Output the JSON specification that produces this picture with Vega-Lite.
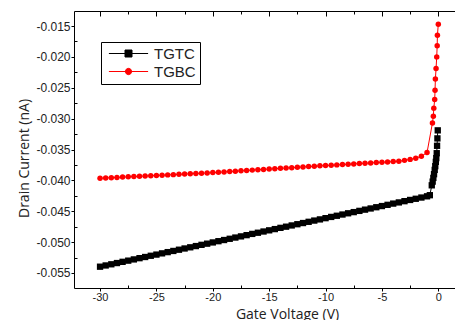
{
  "$schema": "https://vega.github.io/schema/vega-lite/v6.json",
  "width": 381,
  "height": 277,
  "autosize": {"type": "none"},
  "padding": {"left": 74, "top": 11, "right": 0, "bottom": 32},
  "background": "white",
  "config": {
    "view": {"stroke": null},
    "locale": {"number": {"decimal": ".", "thousands": ",", "grouping": [3], "currency": ["$", ""], "minus": "-"}},
    "axis": {
      "grid": false,
      "domainColor": "#000000",
      "tickColor": "#000000",
      "labelFont": "Liberation Sans",
      "labelColor": "#222222",
      "titleFont": "Open Sans",
      "titleFontWeight": "normal",
      "titleFontSize": 14,
      "titleColor": "#222222"
    }
  },
  "data": {
    "values": [
      {"series": "TGBC", "V": -30, "I": -0.03965}, {"series": "TGBC", "V": -29.5, "I": -0.03961},
      {"series": "TGBC", "V": -29, "I": -0.03956}, {"series": "TGBC", "V": -28.5, "I": -0.03952},
      {"series": "TGBC", "V": -28, "I": -0.03947}, {"series": "TGBC", "V": -27.5, "I": -0.03943},
      {"series": "TGBC", "V": -27, "I": -0.03938}, {"series": "TGBC", "V": -26.5, "I": -0.03934},
      {"series": "TGBC", "V": -26, "I": -0.03929}, {"series": "TGBC", "V": -25.5, "I": -0.03925},
      {"series": "TGBC", "V": -25, "I": -0.0392}, {"series": "TGBC", "V": -24.5, "I": -0.03916},
      {"series": "TGBC", "V": -24, "I": -0.03911}, {"series": "TGBC", "V": -23.5, "I": -0.03907},
      {"series": "TGBC", "V": -23, "I": -0.03902}, {"series": "TGBC", "V": -22.5, "I": -0.03898},
      {"series": "TGBC", "V": -22, "I": -0.03893}, {"series": "TGBC", "V": -21.5, "I": -0.03889},
      {"series": "TGBC", "V": -21, "I": -0.03884}, {"series": "TGBC", "V": -20.5, "I": -0.0388},
      {"series": "TGBC", "V": -20, "I": -0.03874}, {"series": "TGBC", "V": -19.5, "I": -0.03868},
      {"series": "TGBC", "V": -19, "I": -0.03863}, {"series": "TGBC", "V": -18.5, "I": -0.03857},
      {"series": "TGBC", "V": -18, "I": -0.03851}, {"series": "TGBC", "V": -17.5, "I": -0.03845},
      {"series": "TGBC", "V": -17, "I": -0.0384}, {"series": "TGBC", "V": -16.5, "I": -0.03834},
      {"series": "TGBC", "V": -16, "I": -0.03828}, {"series": "TGBC", "V": -15.5, "I": -0.03823},
      {"series": "TGBC", "V": -15, "I": -0.03817}, {"series": "TGBC", "V": -14.5, "I": -0.03811},
      {"series": "TGBC", "V": -14, "I": -0.03805}, {"series": "TGBC", "V": -13.5, "I": -0.038},
      {"series": "TGBC", "V": -13, "I": -0.03794}, {"series": "TGBC", "V": -12.5, "I": -0.03788},
      {"series": "TGBC", "V": -12, "I": -0.03782}, {"series": "TGBC", "V": -11.5, "I": -0.03777},
      {"series": "TGBC", "V": -11, "I": -0.03771}, {"series": "TGBC", "V": -10.5, "I": -0.03765},
      {"series": "TGBC", "V": -10, "I": -0.0376}, {"series": "TGBC", "V": -9.5, "I": -0.03754},
      {"series": "TGBC", "V": -9, "I": -0.03749}, {"series": "TGBC", "V": -8.5, "I": -0.03744},
      {"series": "TGBC", "V": -8, "I": -0.03738}, {"series": "TGBC", "V": -7.5, "I": -0.03733},
      {"series": "TGBC", "V": -7, "I": -0.03728}, {"series": "TGBC", "V": -6.5, "I": -0.03722},
      {"series": "TGBC", "V": -6, "I": -0.03717}, {"series": "TGBC", "V": -5.5, "I": -0.03712},
      {"series": "TGBC", "V": -5, "I": -0.03706}, {"series": "TGBC", "V": -4.5, "I": -0.03701},
      {"series": "TGBC", "V": -4, "I": -0.03695}, {"series": "TGBC", "V": -3.5, "I": -0.0369},
      {"series": "TGBC", "V": -3, "I": -0.03676}, {"series": "TGBC", "V": -2.5, "I": -0.0366},
      {"series": "TGBC", "V": -2, "I": -0.0364}, {"series": "TGBC", "V": -1.5, "I": -0.0361},
      {"series": "TGBC", "V": -1, "I": -0.0355}, {"series": "TGBC", "V": -0.52, "I": -0.0307},
      {"series": "TGBC", "V": -0.44, "I": -0.0296}, {"series": "TGBC", "V": -0.4, "I": -0.0283},
      {"series": "TGBC", "V": -0.32, "I": -0.0269}, {"series": "TGBC", "V": -0.29, "I": -0.0254},
      {"series": "TGBC", "V": -0.26, "I": -0.0236}, {"series": "TGBC", "V": -0.2, "I": -0.0219},
      {"series": "TGBC", "V": -0.14, "I": -0.02}, {"series": "TGBC", "V": -0.1, "I": -0.0182},
      {"series": "TGBC", "V": -0.08, "I": -0.0165}, {"series": "TGBC", "V": 0, "I": -0.0147},

      {"series": "TGTC", "V": -30, "I": -0.05398}, {"series": "TGTC", "V": -29.5, "I": -0.05378},
      {"series": "TGTC", "V": -29, "I": -0.05359}, {"series": "TGTC", "V": -28.5, "I": -0.05339},
      {"series": "TGTC", "V": -28, "I": -0.05319}, {"series": "TGTC", "V": -27.5, "I": -0.053},
      {"series": "TGTC", "V": -27, "I": -0.0528}, {"series": "TGTC", "V": -26.5, "I": -0.0526},
      {"series": "TGTC", "V": -26, "I": -0.05241}, {"series": "TGTC", "V": -25.5, "I": -0.05221},
      {"series": "TGTC", "V": -25, "I": -0.05202}, {"series": "TGTC", "V": -24.5, "I": -0.05182},
      {"series": "TGTC", "V": -24, "I": -0.05162}, {"series": "TGTC", "V": -23.5, "I": -0.05143},
      {"series": "TGTC", "V": -23, "I": -0.05123}, {"series": "TGTC", "V": -22.5, "I": -0.05103},
      {"series": "TGTC", "V": -22, "I": -0.05084}, {"series": "TGTC", "V": -21.5, "I": -0.05064},
      {"series": "TGTC", "V": -21, "I": -0.05044}, {"series": "TGTC", "V": -20.5, "I": -0.05025},
      {"series": "TGTC", "V": -20, "I": -0.05005}, {"series": "TGTC", "V": -19.5, "I": -0.04985},
      {"series": "TGTC", "V": -19, "I": -0.04966}, {"series": "TGTC", "V": -18.5, "I": -0.04946},
      {"series": "TGTC", "V": -18, "I": -0.04926}, {"series": "TGTC", "V": -17.5, "I": -0.04907},
      {"series": "TGTC", "V": -17, "I": -0.04887}, {"series": "TGTC", "V": -16.5, "I": -0.04867},
      {"series": "TGTC", "V": -16, "I": -0.04848}, {"series": "TGTC", "V": -15.5, "I": -0.04828},
      {"series": "TGTC", "V": -15, "I": -0.04809}, {"series": "TGTC", "V": -14.5, "I": -0.04789},
      {"series": "TGTC", "V": -14, "I": -0.04769}, {"series": "TGTC", "V": -13.5, "I": -0.0475},
      {"series": "TGTC", "V": -13, "I": -0.0473}, {"series": "TGTC", "V": -12.5, "I": -0.0471},
      {"series": "TGTC", "V": -12, "I": -0.04691}, {"series": "TGTC", "V": -11.5, "I": -0.04671},
      {"series": "TGTC", "V": -11, "I": -0.04651}, {"series": "TGTC", "V": -10.5, "I": -0.04632},
      {"series": "TGTC", "V": -10, "I": -0.04612}, {"series": "TGTC", "V": -9.5, "I": -0.04592},
      {"series": "TGTC", "V": -9, "I": -0.04573}, {"series": "TGTC", "V": -8.5, "I": -0.04553},
      {"series": "TGTC", "V": -8, "I": -0.04533}, {"series": "TGTC", "V": -7.5, "I": -0.04514},
      {"series": "TGTC", "V": -7, "I": -0.04494}, {"series": "TGTC", "V": -6.5, "I": -0.04474},
      {"series": "TGTC", "V": -6, "I": -0.04455}, {"series": "TGTC", "V": -5.5, "I": -0.04435},
      {"series": "TGTC", "V": -5, "I": -0.04416}, {"series": "TGTC", "V": -4.5, "I": -0.04396},
      {"series": "TGTC", "V": -4, "I": -0.04376}, {"series": "TGTC", "V": -3.5, "I": -0.04357},
      {"series": "TGTC", "V": -3, "I": -0.04337}, {"series": "TGTC", "V": -2.5, "I": -0.04317},
      {"series": "TGTC", "V": -2, "I": -0.04298}, {"series": "TGTC", "V": -1.5, "I": -0.04278},
      {"series": "TGTC", "V": -1, "I": -0.04258}, {"series": "TGTC", "V": -0.75, "I": -0.0424},
      {"series": "TGTC", "V": -0.58, "I": -0.0408}, {"series": "TGTC", "V": -0.5, "I": -0.0402},
      {"series": "TGTC", "V": -0.44, "I": -0.0396}, {"series": "TGTC", "V": -0.38, "I": -0.039},
      {"series": "TGTC", "V": -0.32, "I": -0.0383}, {"series": "TGTC", "V": -0.27, "I": -0.0377},
      {"series": "TGTC", "V": -0.22, "I": -0.037}, {"series": "TGTC", "V": -0.18, "I": -0.0364},
      {"series": "TGTC", "V": -0.14, "I": -0.0356}, {"series": "TGTC", "V": -0.11, "I": -0.0344},
      {"series": "TGTC", "V": -0.08, "I": -0.0332}, {"series": "TGTC", "V": -0.05, "I": -0.0319}
    ]
  },
  "layer": [
    {
      "mark": {"type": "line", "strokeWidth": 1},
      "encoding": {
        "x": {
          "field": "V", "type": "quantitative",
          "scale": {"domain": [-32.31, 1.48], "nice": false, "zero": false},
          "axis": {
            "orient": "bottom", "values": [-30, -25, -20, -15, -10, -5, 0],
            "tickSize": 3, "labelPadding": 0, "labelFontSize": 11,
            "title": "Gate Voltage (V)", "titleX": 213, "titleY": 19, "titleBaseline": "top"
          }
        },
        "y": {
          "field": "I", "type": "quantitative",
          "scale": {"domain": [-0.05743, -0.01257], "nice": false, "zero": false},
          "axis": {
            "orient": "left",
            "values": [-0.055, -0.05, -0.045, -0.04, -0.035, -0.03, -0.025, -0.02, -0.015],
            "format": ".3f", "tickSize": 3, "labelPadding": 1, "labelFontSize": 12,
            "title": "Drain Current (nA)", "titleX": -43, "titleY": 147
          }
        },
        "color": {
          "field": "series", "type": "nominal",
          "scale": {"domain": ["TGTC", "TGBC"], "range": ["#000000", "#ff0000"]},
          "legend": {
            "orient": "none", "legendX": 27, "legendY": 31, "title": null,
            "padding": 4,
            "labelFont": "Liberation Sans", "labelFontSize": 15, "labelColor": "#222222",
            "symbolSize": 49, "symbolOffset": 16, "labelOffset": 18, "rowPadding": 2,
            "encode": {
              "legend": {
                "update": {
                  "fill": {"value": "#ffffff"},
                  "stroke": {"value": "#000000"},
                  "strokeWidth": {"value": 1}
                }
              },
              "labels": {
                "update": {"text": {"signal": "datum.label + '    '"}}
              },
              "symbols": {
                "update": {
                  "shape": [
                    {"test": "datum.value === 'TGTC'", "value": "M-5.6,0H5.6M-1,-1H1V1H-1Z"},
                    {"value": "M-5.6,0H5.6M0.9,0A0.9,0.9 0 1 1 -0.9,0A0.9,0.9 0 1 1 0.9,0Z"}
                  ],
                  "fill": {"scale": "color", "field": "value"},
                  "stroke": {"scale": "color", "field": "value"},
                  "strokeWidth": {"value": 1}
                }
              }
            }
          }
        }
      }
    },
    {
      "transform": [{"filter": "datum.series === 'TGBC'"}],
      "mark": {"type": "circle", "color": "#ff0000", "opacity": 1, "size": 30},
      "encoding": {
        "x": {"field": "V", "type": "quantitative", "axis": null},
        "y": {"field": "I", "type": "quantitative", "axis": null}
      }
    },
    {
      "transform": [{"filter": "datum.series === 'TGTC'"}],
      "mark": {"type": "square", "color": "#000000", "opacity": 1, "size": 40},
      "encoding": {
        "x": {"field": "V", "type": "quantitative", "axis": null},
        "y": {"field": "I", "type": "quantitative", "axis": null}
      }
    },
    {
      "mark": {"type": "point", "opacity": 0},
      "encoding": {
        "x": {
          "field": "V", "type": "quantitative",
          "axis": {
            "orient": "bottom", "values": [-27.5, -22.5, -17.5, -12.5, -7.5, -2.5],
            "tickSize": -3, "labels": false, "domain": false, "title": null
          }
        },
        "y": {
          "field": "I", "type": "quantitative",
          "axis": {
            "orient": "left",
            "values": [-0.0525, -0.0475, -0.0425, -0.0375, -0.0325, -0.0275, -0.0225, -0.0175],
            "tickSize": -3, "labels": false, "domain": false, "title": null
          }
        }
      }
    },
    {
      "mark": {"type": "point", "opacity": 0},
      "encoding": {
        "x": {
          "field": "V", "type": "quantitative",
          "axis": {
            "orient": "top", "values": [-30, -25, -20, -15, -10, -5, 0],
            "tickSize": -5, "labels": false, "domain": true, "title": null
          }
        },
        "y": {"field": "I", "type": "quantitative", "axis": null}
      }
    },
    {
      "mark": {"type": "point", "opacity": 0},
      "encoding": {
        "x": {
          "field": "V", "type": "quantitative",
          "axis": {
            "orient": "top", "values": [-27.5, -22.5, -17.5, -12.5, -7.5, -2.5],
            "tickSize": -3, "labels": false, "domain": false, "title": null
          }
        },
        "y": {"field": "I", "type": "quantitative", "axis": null}
      }
    }
  ],
  "resolve": {"axis": {"x": "independent", "y": "independent"}}
}
